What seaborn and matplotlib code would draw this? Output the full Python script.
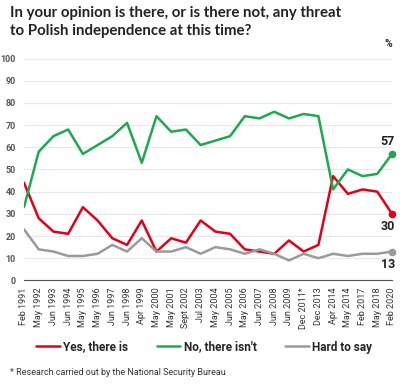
import numpy as np
import pandas as pd
import matplotlib
matplotlib.use('Agg')
import matplotlib.pyplot as plt
import seaborn as sns

# ---------------------------------------------------------------------
# data
# ---------------------------------------------------------------------
dates = ['Feb 1991', 'May 1992', 'Jun 1993', 'Jun 1994', 'May 1995', 'May 1996',
         'Jun 1997', 'Jun 1998', 'Apr 1999', 'May 2000', 'May 2001', 'Sept 2002',
         'Jul 2003', 'May 2004', 'Jun 2005', 'May 2006', 'Jun 2007', 'Jun 2008',
         'Jun 2009', 'Dec 2011*', 'Dec 2013', 'Apr 2014', 'May 2014', 'Feb 2017',
         'May 2018', 'Feb 2020']
yes_there_is = [44, 28, 22, 21, 33, 27, 19, 16, 27, 13, 19, 17, 27, 22, 21, 14,
                13, 12, 18, 13, 16, 47, 39, 41, 40, 30]
no_there_isnt = [33, 58, 65, 68, 57, 61, 65, 71, 53, 74, 67, 68, 61, 63, 65, 74,
                 73, 76, 73, 75, 74, 41, 50, 47, 48, 57]
hard_to_say = [23, 14, 13, 11, 11, 12, 16, 13, 19, 13, 13, 15, 12, 15, 14, 12,
               14, 12, 9, 12, 10, 12, 11, 12, 12, 13]

series = ['Yes, there is', 'No, there isn\'t', 'Hard to say']
colors = ['#e2001a', '#1ea84f', '#9a9a9a']

df = pd.DataFrame({
    'pos': list(range(len(dates))) * 3,
    'value': yes_there_is + no_there_isnt + hard_to_say,
    'answer': np.repeat(series, len(dates)),
})

# ---------------------------------------------------------------------
# plot
# ---------------------------------------------------------------------
sns.set_style('white')
plt.rcParams['font.family'] = ['Roboto', 'DejaVu Sans']

fig = plt.figure(figsize=(4, 3.9), dpi=100)
ax = fig.add_axes([0.06, 0.281, 0.92, 0.569])

sns.lineplot(data=df, x='pos', y='value', hue='answer', hue_order=series,
             palette=colors, linewidth=1.8, ax=ax, legend=False)

ax.set_xlim(0, len(dates) - 1)
ax.set_ylim(0, 100)
ax.set_yticks(range(0, 101, 10))
ax.set_xticks(range(len(dates)))
ax.set_xticklabels(dates, rotation=90, fontsize=6.5, color='#333333')
ax.tick_params(axis='y', labelsize=6.5, labelcolor='#555555', length=0, pad=6)
for lbl in ax.get_yticklabels():
    lbl.set_fontweight('bold')
ax.tick_params(axis='x', length=3, color='#555555', pad=2)
ax.grid(axis='y', color='#e8e8e8', linewidth=0.8)
ax.set_xlabel('')
ax.set_ylabel('')
for side in ['top', 'right', 'left']:
    ax.spines[side].set_visible(False)
ax.spines['bottom'].set_color('#555555')
ax.spines['bottom'].set_linewidth(0.8)
ax.set_axisbelow(True)

# end points and labels
last = len(dates) - 1
ends = [yes_there_is[-1], no_there_isnt[-1], hard_to_say[-1]]
offsets = [-9, 9, -9]
for val, col, off in zip(ends, colors, offsets):
    ax.plot(last, val, 'o', color=col, markersize=4.5, clip_on=False)
    ax.annotate(str(val), (last, val), xytext=(-3, off), textcoords='offset points',
                ha='center', va='center', fontsize=9, fontweight='bold',
                color='#222222', annotation_clip=False)

ax.text(1.0, 1.045, '%', transform=ax.transAxes, ha='right', va='bottom',
        fontsize=7.5, fontweight='bold', color='#333333')

# title
fig.text(0.025, 0.985, 'In your opinion is there, or is there not, any threat\n'
         'to Polish independence at this time?', ha='left', va='top',
         fontsize=10.8, fontweight='bold', color='#222222', family='Lato',
         linespacing=1.35)

# legend
handles = [plt.Line2D([], [], color=c, linewidth=1.8) for c in colors]
fig.legend(handles, series, loc='center', bbox_to_anchor=(0.51, 0.11), ncol=3,
           frameon=False, handlelength=2.0, handletextpad=0.3, columnspacing=2.4,
           prop={'weight': 'bold', 'size': 8.5})

fig.text(0.025, 0.045, '* Research carried out by the National Security Bureau',
         ha='left', va='center', fontsize=6.5, color='#333333')

fig.savefig('out.png', dpi=100)
